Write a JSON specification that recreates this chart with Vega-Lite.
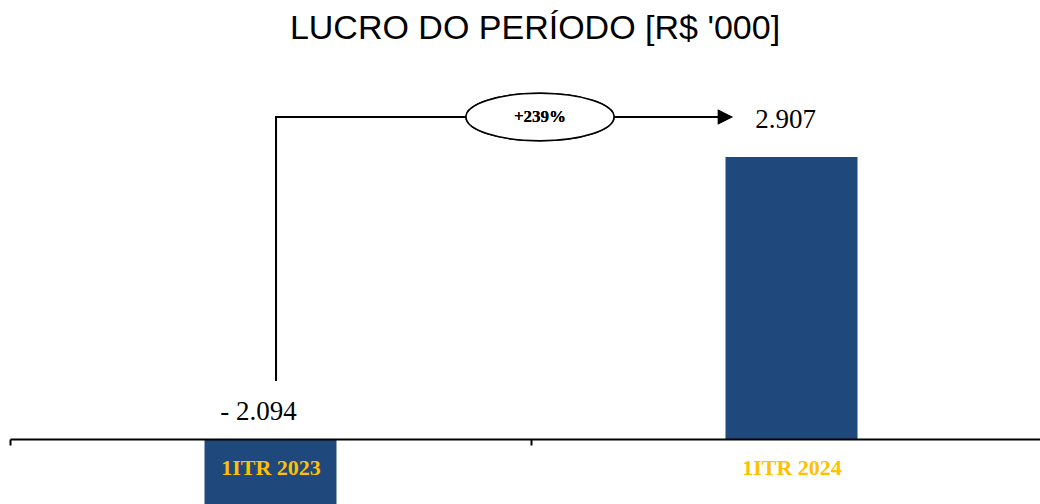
{
  "$schema": "https://vega.github.io/schema/vega-lite/v6.json",
  "autosize": {"type": "none"},
  "padding": {"left": 10, "top": 100, "right": 0, "bottom": 65},
  "width": 1030,
  "height": 339,
  "background": "white",
  "config": {"view": {"stroke": null}},
  "title": {
    "text": "LUCRO DO PERÍODO [R$ '000]",
    "font": "Liberation Sans",
    "fontSize": 34,
    "fontWeight": "normal",
    "color": "#000000",
    "anchor": "middle",
    "frame": "group",
    "baseline": "alphabetic",
    "offset": 17,
    "dx": 10
  },
  "data": {
    "values": [
      {"period": "1ITR 2023", "value": -2094, "label": "- 2.094"},
      {"period": "1ITR 2024", "value": 2907, "label": "2.907"}
    ]
  },
  "layer": [
    {
      "mark": {"type": "bar", "width": 132, "color": "#1F497D"},
      "encoding": {
        "x": {
          "field": "period",
          "type": "nominal",
          "sort": null,
          "scale": {"range": [0, 1042], "paddingInner": 0, "paddingOuter": 0},
          "axis": {
            "title": null,
            "grid": false,
            "domain": true,
            "domainColor": "#000000",
            "domainWidth": 2,
            "ticks": true,
            "tickColor": "#000000",
            "tickWidth": 2,
            "tickSize": 6,
            "tickBand": "extent",
            "labelAngle": 0,
            "labelFont": "Liberation Serif",
            "labelFontWeight": "bold",
            "labelFontSize": 22,
            "labelColor": "#FFC000",
            "labelBaseline": "alphabetic",
            "labelPadding": 29,
            "zindex": 1
          }
        },
        "y": {
          "field": "value",
          "type": "quantitative",
          "scale": {"domain": [0, 3494], "nice": false, "zero": true},
          "axis": null
        }
      }
    },
    {
      "transform": [{"filter": "datum.value > 0"}],
      "mark": {"type": "text", "font": "Liberation Serif", "fontSize": 27, "baseline": "alphabetic", "align": "center", "dx": -6, "dy": -29, "color": "#000000"},
      "encoding": {
        "x": {"field": "period", "type": "nominal", "sort": null},
        "y": {"field": "value", "type": "quantitative"},
        "text": {"field": "label"}
      }
    },
    {
      "transform": [{"filter": "datum.value < 0"}],
      "mark": {"type": "text", "font": "Liberation Serif", "fontSize": 27, "baseline": "alphabetic", "align": "center", "dx": -12, "dy": -19, "color": "#000000"},
      "encoding": {
        "x": {"field": "period", "type": "nominal", "sort": null},
        "y": {"datum": 0, "type": "quantitative"},
        "text": {"field": "label"}
      }
    },
    {
      "mark": {"type": "rule", "color": "#000000", "strokeWidth": 2, "strokeCap": "square"},
      "encoding": {
        "x": {"datum": "1ITR 2023", "type": "nominal", "bandPosition": 0.5106},
        "y": {"datum": 608, "type": "quantitative"},
        "y2": {"datum": 3319}
      }
    },
    {
      "mark": {"type": "rule", "color": "#000000", "strokeWidth": 2, "strokeCap": "square"},
      "encoding": {
        "x": {"datum": "1ITR 2023", "type": "nominal", "bandPosition": 0.5106},
        "x2": {"datum": "1ITR 2024", "bandPosition": 0.36},
        "y": {"datum": 3319, "type": "quantitative"}
      }
    },
    {
      "mark": {"type": "point", "shape": "M -1 0 A 1 0.32 0 1 1 1 0 A 1 0.32 0 1 1 -1 0 Z", "size": 21904, "filled": true, "fill": "#FFFFFF", "stroke": "#000000", "strokeWidth": 1.5, "opacity": 1},
      "encoding": {
        "x": {"datum": "1ITR 2024", "type": "nominal", "bandPosition": 0.0173},
        "y": {"datum": 3319, "type": "quantitative"}
      }
    },
    {
      "mark": {"type": "text", "text": "+239%", "font": "Liberation Serif", "fontWeight": "bold", "fontSize": 17, "baseline": "middle", "align": "center", "color": "#000000"},
      "encoding": {
        "x": {"datum": "1ITR 2024", "type": "nominal", "bandPosition": 0.0173},
        "y": {"datum": 3319, "type": "quantitative"}
      }
    },
    {
      "mark": {"type": "point", "shape": "M -1 -1 L 1 0 L -1 1 Z", "size": 225, "filled": true, "color": "#000000", "opacity": 1},
      "encoding": {
        "x": {"datum": "1ITR 2024", "type": "nominal", "bandPosition": 0.373},
        "y": {"datum": 3319, "type": "quantitative"}
      }
    }
  ]
}
